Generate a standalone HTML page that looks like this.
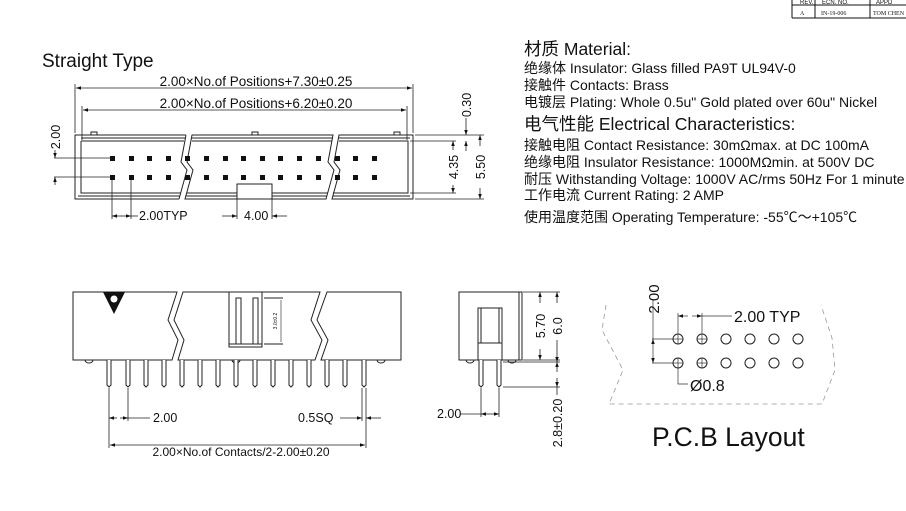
<!DOCTYPE html>
<html><head><meta charset="utf-8"><style>
html,body{margin:0;padding:0;background:#fff;}
svg{display:block;}
text{font-family:"Liberation Sans","Noto Sans CJK SC",sans-serif;fill:#111;}
</style></head><body>
<svg width="906" height="511" viewBox="0 0 906 511" xmlns="http://www.w3.org/2000/svg">
<defs>
<marker id="a" viewBox="0 0 10 10" refX="10" refY="5" markerWidth="7" markerHeight="5" orient="auto-start-reverse" markerUnits="userSpaceOnUse"><path d="M0,1.5L10,5L0,8.5z" fill="#111"/></marker>
</defs>

<g stroke="#111" stroke-width="1" fill="none">
<line x1="792" y1="5" x2="906" y2="5"/><line x1="792" y1="18" x2="906" y2="18"/>
<line x1="792" y1="0" x2="792" y2="18"/><line x1="815" y1="0" x2="815" y2="18"/><line x1="870" y1="0" x2="870" y2="18"/>
</g>
<text x="800" y="4" font-size="6">REV.</text><text x="822" y="4" font-size="6">ECN. NO.</text><text x="876" y="4" font-size="6">APPD</text>
<text x="800" y="15" font-size="6" style="font-family:'Liberation Serif',serif">A</text>
<text x="821" y="15" font-size="6" style="font-family:'Liberation Serif',serif">IN-19-006</text>
<text x="873" y="15" font-size="6" style="font-family:'Liberation Serif',serif">TOM CHEN</text>

<text x="42" y="67" font-size="19">Straight Type</text>

<g stroke="#222" stroke-width="1" fill="none">
<path d="M186,135H75V199H179 M186,135L181,162L187,170L179,199"/>
<path d="M192,135H333L328,162L334,170L326,199H185L193,170L187,162Z"/>
<path d="M339,135H413V199H332L340,170L334,162Z"/>
<path d="M81,141H184 M81,141V193H181 M192,141H332 M187,193H328 M339,141H408V193H333"/>
<path d="M81,138H185 M191,138H333 M338,138H410 M78,196H180 M186,196H327 M333,196H410"/>
<rect x="91" y="132" width="6" height="3"/><rect x="252" y="132" width="6" height="3"/><rect x="394" y="132" width="6" height="3"/>
<rect x="237" y="184" width="35" height="15" fill="#fff"/>
</g>
<g fill="#111">
<rect x="110" y="156" width="5" height="5"/><rect x="129" y="156" width="5" height="5"/><rect x="147" y="156" width="5" height="5"/><rect x="166" y="156" width="5" height="5"/><rect x="185" y="156" width="5" height="5"/><rect x="204" y="156" width="5" height="5"/><rect x="223" y="156" width="5" height="5"/><rect x="241" y="156" width="5" height="5"/><rect x="260" y="156" width="5" height="5"/><rect x="278" y="156" width="5" height="5"/><rect x="297" y="156" width="5" height="5"/><rect x="316" y="156" width="5" height="5"/><rect x="335" y="156" width="5" height="5"/><rect x="353" y="156" width="5" height="5"/><rect x="372" y="156" width="5" height="5"/>
<rect x="110" y="175" width="5" height="5"/><rect x="129" y="175" width="5" height="5"/><rect x="147" y="175" width="5" height="5"/><rect x="166" y="175" width="5" height="5"/><rect x="185" y="175" width="5" height="5"/><rect x="204" y="175" width="5" height="5"/><rect x="223" y="175" width="5" height="5"/><rect x="241" y="175" width="5" height="5"/><rect x="260" y="175" width="5" height="5"/><rect x="278" y="175" width="5" height="5"/><rect x="297" y="175" width="5" height="5"/><rect x="316" y="175" width="5" height="5"/><rect x="335" y="175" width="5" height="5"/><rect x="353" y="175" width="5" height="5"/><rect x="372" y="175" width="5" height="5"/>
</g>
<g stroke="#222" stroke-width="0.8" fill="none">
<line x1="75" y1="133" x2="75" y2="84"/><line x1="413" y1="133" x2="413" y2="84"/>
<line x1="76" y1="88" x2="412" y2="88" marker-start="url(#a)" marker-end="url(#a)"/>
<line x1="82" y1="140" x2="82" y2="106"/><line x1="407" y1="140" x2="407" y2="106"/>
<line x1="83" y1="110" x2="406" y2="110" marker-start="url(#a)" marker-end="url(#a)"/>
<line x1="54" y1="158" x2="110" y2="158"/><line x1="54" y1="177" x2="110" y2="177"/>
<line x1="55" y1="150" x2="55" y2="158" marker-end="url(#a)"/><line x1="55" y1="185" x2="55" y2="177" marker-end="url(#a)"/>
<line x1="112" y1="180" x2="112" y2="219"/><line x1="131" y1="180" x2="131" y2="219"/>
<line x1="122" y1="216" x2="112" y2="216" marker-end="url(#a)"/><line x1="121" y1="216" x2="131" y2="216" marker-end="url(#a)"/><line x1="131" y1="216" x2="138" y2="216"/>
<line x1="237" y1="199" x2="237" y2="219"/><line x1="272" y1="199" x2="272" y2="219"/>
<line x1="222" y1="216" x2="237" y2="216" marker-end="url(#a)"/><line x1="287" y1="216" x2="272" y2="216" marker-end="url(#a)"/>
<line x1="410" y1="141" x2="456" y2="141"/><line x1="410" y1="193" x2="456" y2="193"/>
<line x1="415" y1="135" x2="484" y2="135"/><line x1="415" y1="199" x2="484" y2="199"/>
<line x1="453" y1="150" x2="453" y2="141" marker-end="url(#a)"/><line x1="453" y1="185" x2="453" y2="193" marker-end="url(#a)"/>
<line x1="480" y1="146" x2="480" y2="135" marker-end="url(#a)"/><line x1="480" y1="188" x2="480" y2="199" marker-end="url(#a)"/>
<line x1="466" y1="118" x2="466" y2="135" marker-end="url(#a)"/><line x1="466" y1="151" x2="466" y2="141" marker-end="url(#a)"/>
</g>
<g font-size="12.5">
<text x="256" y="86" text-anchor="middle" font-size="13.5">2.00×No.of Positions+7.30±0.25</text>
<text x="256" y="108" text-anchor="middle" font-size="13.5">2.00×No.of Positions+6.20±0.20</text>
<text x="139" y="220">2.00TYP</text>
<text x="244" y="220">4.00</text>
<text transform="translate(60,137) rotate(-90)" text-anchor="middle">2.00</text>
<text transform="translate(458,167) rotate(-90)" text-anchor="middle" stroke="#fff" stroke-width="3" paint-order="stroke">4.35</text>
<text transform="translate(485,167) rotate(-90)" text-anchor="middle" stroke="#fff" stroke-width="3" paint-order="stroke">5.50</text>
<text transform="translate(471,105) rotate(-90)" text-anchor="middle">0.30</text>
</g>

<g>
<text x="524" y="55" font-size="17.5">材质 Material:</text>
<text x="524" y="73" font-size="14">绝缘体 Insulator: Glass filled PA9T UL94V-0</text>
<text x="524" y="90" font-size="14">接触件 Contacts: Brass</text>
<text x="524" y="107" font-size="14">电镀层 Plating: Whole 0.5u" Gold plated over 60u" Nickel</text>
<text x="524" y="130" font-size="17.5">电气性能 Electrical Characteristics:</text>
<text x="524" y="150" font-size="14">接触电阻 Contact Resistance: 30mΩmax. at DC 100mA</text>
<text x="524" y="167" font-size="14">绝缘电阻 Insulator Resistance: 1000MΩmin. at 500V DC</text>
<text x="524" y="184" font-size="14">耐压 Withstanding Voltage: 1000V AC/rms 50Hz For 1 minute</text>
<text x="524" y="200" font-size="14">工作电流 Current Rating: 2 AMP</text>
<text x="524" y="222" font-size="14">使用温度范围 Operating Temperature: -55℃～+105℃</text>
</g>

<g stroke="#222" stroke-width="1" fill="none">
<path d="M177,292H73V360H172L178,340L168,320Z"/>
<path d="M183,292H320L311,320L322,340L315,360H178L184,340L174,320Z"/>
<path d="M327,292H401V360H321L328,340L317,320Z"/>
<rect x="229" y="292" width="33" height="55" fill="#fff"/>
<line x1="229" y1="344" x2="262" y2="344"/>
<rect x="236" y="298" width="5" height="46"/><rect x="253" y="298" width="5" height="46"/>
<line x1="264" y1="298" x2="283" y2="298"/><line x1="264" y1="344" x2="283" y2="344"/>
<line x1="281" y1="300" x2="281" y2="342" stroke-width="0.6"/>
<path d="M85,360a4,3 0 0 0 8,0 M377,360a4,3 0 0 0 8,0 M232,360a4,3 0 0 0 8,0"/>
</g>
<path d="M103,292H125L114,314Z" fill="#111"/>
<circle cx="114" cy="299" r="3.5" fill="#fff"/>
<text transform="translate(277,321) rotate(-90)" font-size="5" text-anchor="middle" fill="#555">3.0±0.2</text>
<g stroke="#222" stroke-width="1" fill="#fff">
<path d="M107,360V385l2,2l2,-2V360"/><path d="M126,360V385l2,2l2,-2V360"/><path d="M144,360V385l2,2l2,-2V360"/><path d="M162,360V385l2,2l2,-2V360"/><path d="M180,360V385l2,2l2,-2V360"/><path d="M198,360V385l2,2l2,-2V360"/><path d="M216,360V385l2,2l2,-2V360"/><path d="M234,360V385l2,2l2,-2V360"/><path d="M253,360V385l2,2l2,-2V360"/><path d="M271,360V385l2,2l2,-2V360"/><path d="M289,360V385l2,2l2,-2V360"/><path d="M307,360V385l2,2l2,-2V360"/><path d="M325,360V385l2,2l2,-2V360"/><path d="M343,360V385l2,2l2,-2V360"/><path d="M362,360V385l2,2l2,-2V360"/>
</g>
<g stroke="#222" stroke-width="0.8" fill="none">
<line x1="109" y1="388" x2="109" y2="448"/><line x1="128" y1="388" x2="128" y2="421"/>
<line x1="120" y1="418" x2="128" y2="418" marker-end="url(#a)"/><line x1="128" y1="418" x2="150" y2="418"/><line x1="117" y1="418" x2="109" y2="418" marker-end="url(#a)"/>
<line x1="362" y1="388" x2="362" y2="421"/><line x1="366" y1="388" x2="366" y2="448"/>
<line x1="340" y1="418" x2="362" y2="418" marker-end="url(#a)"/><line x1="381" y1="418" x2="366" y2="418" marker-end="url(#a)"/>
<line x1="110" y1="445" x2="365" y2="445" marker-start="url(#a)" marker-end="url(#a)"/>
</g>
<text x="153" y="422" font-size="12.5">2.00</text>
<text x="298" y="422" font-size="12.5">0.5SQ</text>
<text x="241" y="456" font-size="12" text-anchor="middle">2.00×No.of Contacts/2-2.00±0.20</text>

<g stroke="#222" stroke-width="1" fill="none">
<rect x="459" y="292" width="63" height="68"/>
<line x1="519" y1="292" x2="519" y2="360"/>
<rect x="478" y="308" width="24" height="52"/>
<line x1="478" y1="343" x2="502" y2="343"/>
<line x1="481" y1="308" x2="481" y2="343"/><line x1="499" y1="308" x2="499" y2="343"/>
<path d="M466,360a4,3 0 0 0 8,0 M508,360a4,3 0 0 0 8,0"/>
</g>
<g stroke="#222" stroke-width="1" fill="#fff">
<path d="M479,360V385l2,2l2,-2V360"/><path d="M497,360V385l2,2l2,-2V360"/>
</g>
<g stroke="#222" stroke-width="0.8" fill="none">
<line x1="523" y1="292" x2="560" y2="292"/><line x1="523" y1="360" x2="560" y2="360"/><line x1="503" y1="362" x2="560" y2="362"/><line x1="503" y1="387" x2="560" y2="387"/>
<line x1="540" y1="303" x2="540" y2="292" marker-end="url(#a)"/><line x1="540" y1="349" x2="540" y2="360" marker-end="url(#a)"/>
<line x1="557" y1="303" x2="557" y2="292" marker-end="url(#a)"/><line x1="557" y1="340" x2="557" y2="362" marker-end="url(#a)"/>
<line x1="557" y1="372" x2="557" y2="362" marker-end="url(#a)"/><line x1="557" y1="378" x2="557" y2="387" marker-end="url(#a)"/><line x1="557" y1="387" x2="557" y2="395"/>
<line x1="481" y1="388" x2="481" y2="417"/><line x1="499" y1="388" x2="499" y2="417"/>
<line x1="460" y1="414" x2="481" y2="414"/><line x1="490" y1="414" x2="499" y2="414" marker-end="url(#a)"/><line x1="490" y1="414" x2="481" y2="414" marker-end="url(#a)"/>
</g>
<g font-size="12.5">
<text transform="translate(545,326) rotate(-90)" text-anchor="middle" stroke="#fff" stroke-width="3" paint-order="stroke">5.70</text>
<text transform="translate(562,326) rotate(-90)" text-anchor="middle" stroke="#fff" stroke-width="3" paint-order="stroke">6.0</text>
<text transform="translate(562,423) rotate(-90)" text-anchor="middle">2.8±0.20</text>
<text x="437" y="418">2.00</text>
</g>

<g stroke="#999" stroke-width="0.8" fill="none" stroke-dasharray="5,4">
<path d="M606,305L602,330L623,370L609,404H822L835,370L832,338L821,305"/>
</g>
<g stroke="#222" stroke-width="1" fill="none">
<circle cx="678" cy="339" r="5"/><circle cx="702" cy="339" r="5"/><circle cx="726" cy="339" r="5"/><circle cx="750" cy="339" r="5"/><circle cx="774" cy="339" r="5"/><circle cx="798" cy="339" r="5"/>
<circle cx="678" cy="363" r="5"/><circle cx="702" cy="363" r="5"/><circle cx="726" cy="363" r="5"/><circle cx="750" cy="363" r="5"/><circle cx="774" cy="363" r="5"/><circle cx="798" cy="363" r="5"/>
</g>
<g stroke="#333" stroke-width="0.7" fill="none">
<line x1="678" y1="334" x2="678" y2="344"/><line x1="673" y1="339" x2="683" y2="339"/><line x1="678" y1="358" x2="678" y2="368"/><line x1="673" y1="363" x2="683" y2="363"/>
<line x1="702" y1="334" x2="702" y2="344"/><line x1="697" y1="339" x2="707" y2="339"/><line x1="702" y1="358" x2="702" y2="368"/><line x1="697" y1="363" x2="707" y2="363"/>
<line x1="678" y1="334" x2="678" y2="313"/><line x1="702" y1="334" x2="702" y2="313"/>
<line x1="688" y1="316" x2="678" y2="316" marker-end="url(#a)"/><line x1="692" y1="316" x2="702" y2="316" marker-end="url(#a)"/><line x1="702" y1="316" x2="732" y2="316"/>
<line x1="652" y1="339" x2="673" y2="339"/><line x1="652" y1="363" x2="673" y2="363"/>
<line x1="653" y1="300" x2="653" y2="339"/><line x1="653" y1="352" x2="653" y2="339" marker-end="url(#a)"/><line x1="653" y1="352" x2="653" y2="363" marker-end="url(#a)"/>
<path d="M678,368V384H688"/>
</g>
<text x="734" y="322" font-size="16">2.00 TYP</text>
<text transform="translate(659,299) rotate(-90)" text-anchor="middle" font-size="15">2.00</text>
<text x="690" y="391" font-size="16">Ø0.8</text>
<text x="652" y="446" font-size="26.5">P.C.B Layout</text>
</svg>
</body></html>
